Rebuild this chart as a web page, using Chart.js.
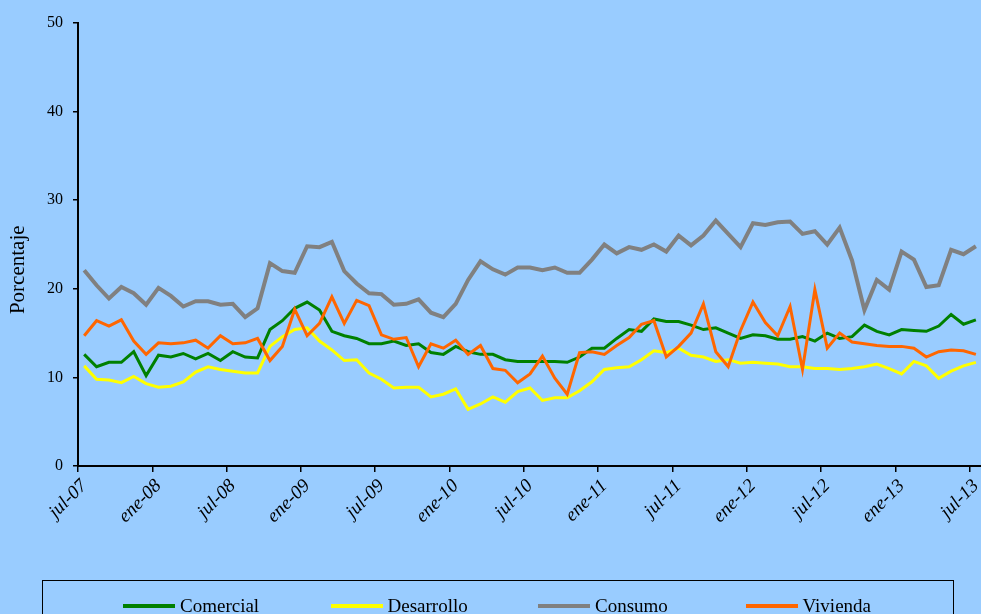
<!DOCTYPE html>
<html>
<head>
<meta charset="utf-8">
<script src="https://cdn.jsdelivr.net/npm/chart.js@4"></script>
<style>
  html, body { margin: 0; padding: 0; background: #99ccff; overflow: hidden; width: 981px; height: 614px; }
  #wrap { position: relative; width: 981px; height: 614px; overflow: hidden; }
  #myChart { position: absolute; left: 0; top: 0; }
  #legends {
    position: absolute; left: 42px; top: 580px; width: 912px; height: 60px;
    border: 1px solid #000; box-sizing: border-box;
  }
  .legends__items { display: flex; padding-left: 80px; padding-top: 14px; }
  .legends__item { display: flex; align-items: center; width: 216px; }
  .legends__color { width: 52px; height: 4px; margin-right: 5px; }
  .legends__text { font-family: "Liberation Serif", "Times New Roman", serif; font-size: 19px; color: #000; }
</style>
</head>
<body>
<div id="wrap">
  <canvas id="myChart" width="995" height="614"></canvas>
  <div id="legends"></div>
</div>
<script>
const MONTHS = [
  "jul-07", "ago-07", "sep-07", "oct-07", "nov-07", "dic-07",
  "ene-08", "feb-08", "mar-08", "abr-08", "may-08", "jun-08",
  "jul-08", "ago-08", "sep-08", "oct-08", "nov-08", "dic-08",
  "ene-09", "feb-09", "mar-09", "abr-09", "may-09", "jun-09",
  "jul-09", "ago-09", "sep-09", "oct-09", "nov-09", "dic-09",
  "ene-10", "feb-10", "mar-10", "abr-10", "may-10", "jun-10",
  "jul-10", "ago-10", "sep-10", "oct-10", "nov-10", "dic-10",
  "ene-11", "feb-11", "mar-11", "abr-11", "may-11", "jun-11",
  "jul-11", "ago-11", "sep-11", "oct-11", "nov-11", "dic-11",
  "ene-12", "feb-12", "mar-12", "abr-12", "may-12", "jun-12",
  "jul-12", "ago-12", "sep-12", "oct-12", "nov-12", "dic-12",
  "ene-13", "feb-13", "mar-13", "abr-13", "may-13", "jun-13",
  "jul-13",
]
const COMERCIAL = [
  12.6, 11.2, 11.7, 11.7, 12.9, 10.2, 12.5, 12.3, 12.7, 12.1, 12.7, 11.9,
  12.9, 12.3, 12.2, 15.4, 16.4, 17.8, 18.5, 17.6, 15.2, 14.7, 14.4, 13.8,
  13.8, 14.1, 13.6, 13.8, 12.8, 12.6, 13.5, 12.9, 12.6, 12.6, 12.0, 11.8,
  11.8, 11.8, 11.8, 11.7, 12.3, 13.3, 13.3, 14.4, 15.4, 15.2, 16.6, 16.3,
  16.3, 15.9, 15.4, 15.6, 15.0, 14.4, 14.8, 14.7, 14.3, 14.3, 14.6, 14.1,
  15.0, 14.4, 14.6, 15.9, 15.2, 14.8, 15.4, 15.3, 15.2, 15.8, 17.1, 16.0,
  16.5,
]
const DESARROLLO = [
  11.3, 9.8, 9.7, 9.4, 10.1, 9.3, 8.9, 9.0, 9.5, 10.6, 11.2, 10.9,
  10.7, 10.5, 10.5, 13.5, 14.6, 15.4, 15.6, 14.1, 13.1, 11.9, 12.0, 10.5,
  9.8, 8.8, 8.9, 8.9, 7.8, 8.1, 8.7, 6.4, 7.0, 7.8, 7.2, 8.4,
  8.8, 7.4, 7.7, 7.7, 8.5, 9.5, 10.9, 11.1, 11.2, 12.0, 13.0, 12.8,
  13.3, 12.5, 12.3, 11.8, 12.0, 11.6, 11.7, 11.6, 11.5, 11.2, 11.2, 11.0,
  11.0, 10.9, 11.0, 11.2, 11.5, 11.0, 10.4, 11.8, 11.3, 9.9, 10.7, 11.3,
  11.7,
]
const CONSUMO = [
  22.1, 20.4, 18.9, 20.2, 19.5, 18.2, 20.1, 19.2, 18.0, 18.6, 18.6, 18.2,
  18.3, 16.8, 17.8, 22.9, 22.0, 21.8, 24.8, 24.7, 25.3, 22.0, 20.6, 19.5,
  19.4, 18.2, 18.3, 18.8, 17.3, 16.8, 18.3, 21.0, 23.1, 22.2, 21.6, 22.4,
  22.4, 22.1, 22.4, 21.8, 21.8, 23.3, 25.0, 24.0, 24.7, 24.4, 25.0, 24.2,
  26.0, 24.9, 26.0, 27.7, 26.2, 24.7, 27.4, 27.2, 27.5, 27.6, 26.2, 26.5,
  25.0, 26.9, 23.2, 17.6, 21.0, 19.9, 24.2, 23.3, 20.2, 20.4, 24.4, 23.9,
  24.8,
]
const VIVIENDA = [
  14.7, 16.4, 15.8, 16.5, 14.1, 12.6, 13.9, 13.8, 13.9, 14.2, 13.3, 14.7,
  13.8, 13.9, 14.4, 11.9, 13.5, 17.7, 14.7, 16.1, 19.1, 16.1, 18.7, 18.1,
  14.8, 14.3, 14.5, 11.2, 13.8, 13.3, 14.2, 12.6, 13.6, 11.0, 10.8, 9.4,
  10.4, 12.4, 9.9, 8.1, 12.8, 12.9, 12.6, 13.6, 14.5, 16.0, 16.4, 12.3,
  13.5, 15.0, 18.3, 12.9, 11.2, 15.3, 18.5, 16.2, 14.7, 18.0, 10.9, 19.9,
  13.3, 15.0, 14.0, 13.8, 13.6, 13.5, 13.5, 13.3, 12.3, 12.9, 13.1, 13.0,
  12.6,
]
const Y_TICKS = [0, 10, 20, 30, 40, 50]
const LABEL_STEP = 6
const Y_TITLE = "Porcentaje"

const SERIES = [
  { label: "Comercial", data: COMERCIAL, color: "#008000", width: 3 },
  { label: "Desarrollo", data: DESARROLLO, color: "#ffff00", width: 3 },
  { label: "Consumo", data: CONSUMO, color: "#808080", width: 4 },
  { label: "Vivienda", data: VIVIENDA, color: "#ff6600", width: 3 },
]
const serif = '"Liberation Serif", "Times New Roman", serif'

const htmlLegendPlugin = {
  id: "htmlLegend",
  afterUpdate(chart, args, options) {
    const container = document.querySelector(options.container)
    container.innerHTML = ""
    const wrapper = document.createElement("div")
    wrapper.classList.add("legends__items")
    chart.data.datasets.forEach((ds) => {
      const item = document.createElement("div")
      item.classList.add("legends__item")
      const color = document.createElement("div")
      color.classList.add("legends__color")
      color.style.backgroundColor = ds.borderColor
      const text = document.createElement("span")
      text.classList.add("legends__text")
      text.textContent = ds.label
      item.appendChild(color)
      item.appendChild(text)
      wrapper.appendChild(item)
    })
    container.appendChild(wrapper)
  },
}

// y title sits a bit below the middle of the axis in the original, so draw it by hand
const yTitlePlugin = {
  id: "yTitle",
  afterDraw(chart, args, options) {
    const { ctx, chartArea } = chart
    const cy = chartArea.top + (chartArea.bottom - chartArea.top) * options.at
    ctx.save()
    ctx.translate(options.x, cy)
    ctx.rotate(-Math.PI / 2)
    ctx.font = `${options.size}px ${serif}`
    ctx.fillStyle = "#000"
    ctx.textAlign = "center"
    ctx.textBaseline = "middle"
    ctx.fillText(options.text, 0, 0)
    ctx.restore()
  },
}

const ctx = document.getElementById("myChart").getContext("2d")
const config = {
  type: "line",
  data: {
    labels: MONTHS,
    datasets: SERIES.map((s, i) => ({
      label: s.label,
      data: s.data,
      borderColor: s.color,
      backgroundColor: s.color,
      borderWidth: s.width,
      pointRadius: 0,
      tension: 0,
      fill: false,
      order: SERIES.length - i,
    })),
  },
  options: {
    responsive: false,
    animation: false,
    layout: { padding: { top: 23, right: 0, left: 0, bottom: 0 } },
    plugins: {
      htmlLegend: { container: "#legends" },
      yTitle: { text: Y_TITLE, x: 18, at: 0.557, size: 21 },
      legend: { display: false },
      tooltip: { enabled: false },
    },
    scales: {
      x: {
        type: "category",
        offset: true,
        border: { display: true, color: "#000", width: 2 },
        grid: {
          offset: true,
          drawOnChartArea: false,
          drawTicks: true,
          tickLength: 6,
          color: (c) => (c.index % LABEL_STEP === 0 ? "#000" : "rgba(0,0,0,0)"),
          lineWidth: 1.5,
        },
        ticks: {
          autoSkip: false,
          maxRotation: 45,
          minRotation: 45,
          padding: 3,
          color: "#000",
          font: { family: serif, size: 19, style: "italic" },
          callback: function (value, index) {
            return index % LABEL_STEP === 0 ? MONTHS[index] : ""
          },
        },
        afterFit: (scale) => { scale.height = 148 },
      },
      y: {
        min: 0,
        max: 50,
        afterBuildTicks: (scale) => { scale.ticks = Y_TICKS.map((v) => ({ value: v })) },
        border: { display: true, color: "#000", width: 2 },
        grid: {
          drawOnChartArea: false,
          drawTicks: true,
          tickLength: 5,
          color: "#000",
          lineWidth: 1.5,
        },
        ticks: {
          padding: 10,
          color: "#000",
          font: { family: serif, size: 16 },
        },
        title: { display: false },
        afterFit: (scale) => { scale.width = 78 },
      },
    },
  },
  plugins: [htmlLegendPlugin, yTitlePlugin],
}
var myChart = new Chart(ctx, config)
</script>
</body>
</html>
